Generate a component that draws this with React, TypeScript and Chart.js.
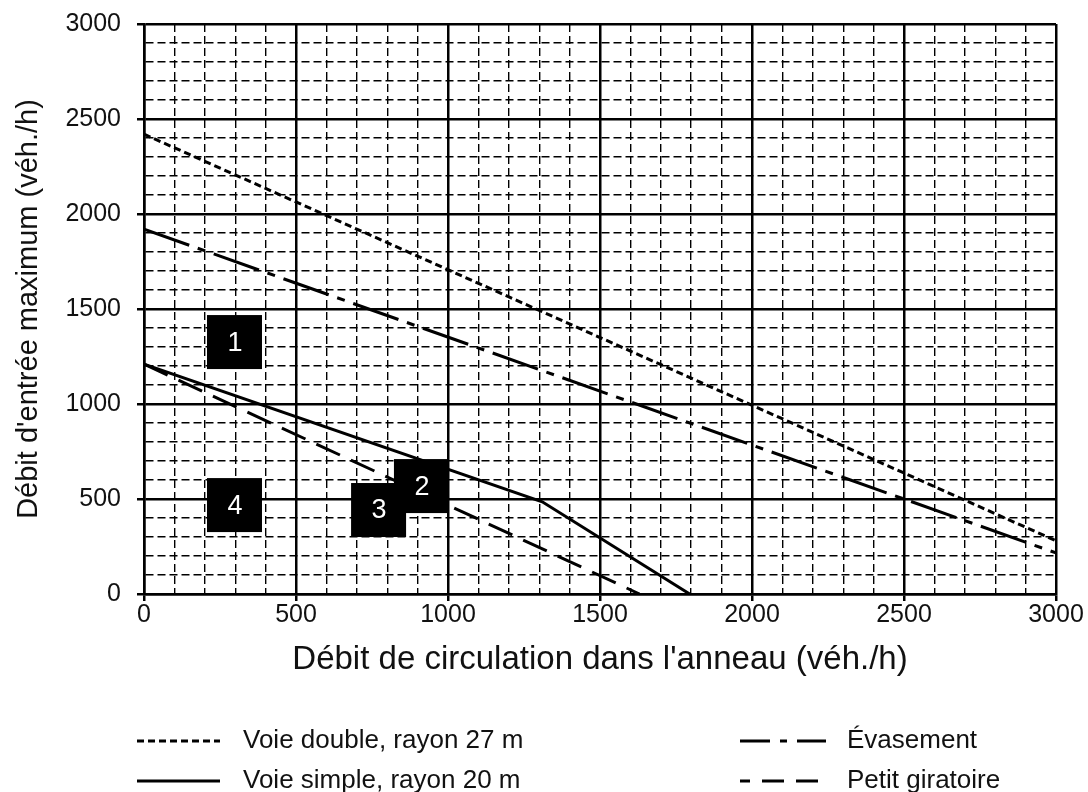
import React, { useEffect, useRef } from 'react';
import { Chart, registerables } from 'chart.js';

Chart.register(...registerables);

// ---- Data ----
const voieDoubleX = [0, 3000];
const voieDoubleY = [2420, 280];
const evasementX = [0, 3000];
const evasementY = [1920, 216];
const voieSimpleX = [0, 1310, 1795];
const voieSimpleY = [1210, 485, 0];
const petitGiratoireX = [0, 1630];
const petitGiratoireY = [1210, 0];

const seriesLabels = [
  'Voie double, rayon 27 m',
  'Voie simple, rayon 20 m',
  'Évasement',
  'Petit giratoire',
];

const zoneLabels = ['1', '2', '3', '4'];
const zoneX = [296, 911, 770, 296];
const zoneY = [1326, 568, 442, 468];

const xTitle = "Débit de circulation dans l'anneau (véh./h)";
const yTitle = "Débit d'entrée maximum (véh./h)";

const FONT = "'Liberation Sans', Arial, Helvetica, sans-serif";

export default function App() {
  const ref = useRef<HTMLCanvasElement>(null);

  useEffect(() => {
    document.body.style.margin = '0';
    const toPts = (xs: number[], ys: number[]) => xs.map((x, i) => ({ x, y: ys[i] }));
    const isMajor = (ctx: any) => {
      if (!ctx || !ctx.tick) return true;
      return Math.round(ctx.tick.value) % 500 === 0;
    };

    const zonePlugin = {
      id: 'zones',
      afterDatasetsDraw(chart: any) {
        const { ctx, scales } = chart;
        ctx.save();
        for (let i = 0; i < zoneLabels.length; i++) {
          const px = scales.x.getPixelForValue(zoneX[i]);
          const py = scales.y.getPixelForValue(zoneY[i]);
          ctx.fillStyle = '#000';
          ctx.fillRect(px - 27, py - 27, 55, 54);
          ctx.fillStyle = '#fff';
          ctx.font = `27px ${FONT}`;
          ctx.textAlign = 'center';
          ctx.textBaseline = 'middle';
          ctx.fillText(zoneLabels[i], px + 1, py + 1);
        }
        ctx.restore();
      },
    };

    const legendItems = [
      { ds: 0, x0: 137, x1: 220, tx: 243, y: 741, dash: [7, 4], offset: 0 },
      { ds: 1, x0: 137, x1: 220, tx: 243, y: 781, dash: [], offset: 0 },
      { ds: 2, x0: 740, x1: 826, tx: 847, y: 741, dash: [30, 10, 7, 10], offset: 0 },
      { ds: 3, x0: 740, x1: 826, tx: 847, y: 781, dash: [22, 12], offset: 12 },
    ];

    const legendPlugin = {
      id: 'customLegend',
      afterDraw(chart: any) {
        const { ctx } = chart;
        ctx.save();
        legendItems.forEach((it) => {
          const ds = chart.data.datasets[it.ds];
          ctx.strokeStyle = ds.borderColor;
          ctx.lineWidth = 3;
          ctx.setLineDash(it.dash);
          ctx.lineDashOffset = it.offset;
          ctx.beginPath();
          ctx.moveTo(it.x0, it.y);
          ctx.lineTo(it.x1, it.y);
          ctx.stroke();
          ctx.setLineDash([]);
          ctx.fillStyle = '#111';
          ctx.font = `26px ${FONT}`;
          ctx.textAlign = 'left';
          ctx.textBaseline = 'middle';
          ctx.fillText(ds.label, it.tx, it.y);
        });
        ctx.restore();
      },
    };

    const gridOpts = {
      color: '#000',
      lineWidth: (c: any) => (isMajor(c) ? 2.5 : 1.4),
      tickLength: 7,
      tickWidth: 2.5,
      tickColor: (c: any) => (isMajor(c) ? '#000' : 'rgba(0,0,0,0)'),
    };
    const borderOpts = {
      display: true,
      color: '#000',
      width: 2.5,
      dash: (c: any) => (c && c.type === 'tick' && !isMajor(c) ? [8, 4] : []),
    };
    const tickFont = { family: FONT, size: 25 };

    const common = { borderColor: '#000', pointRadius: 0, fill: false, tension: 0 };

    const chart = new Chart(ref.current as HTMLCanvasElement, {
      type: 'line',
      data: {
        datasets: [
          { ...common, label: seriesLabels[0], data: toPts(voieDoubleX, voieDoubleY), borderWidth: 3, borderDash: [7, 4] },
          { ...common, label: seriesLabels[1], data: toPts(voieSimpleX, voieSimpleY), borderWidth: 3 },
          { ...common, label: seriesLabels[2], data: toPts(evasementX, evasementY), borderWidth: 3, borderDash: [48, 9, 8, 9] },
          { ...common, label: seriesLabels[3], data: toPts(petitGiratoireX, petitGiratoireY), borderWidth: 3, borderDash: [26, 12] },
        ],
      },
      options: {
        animation: false,
        responsive: false,
        devicePixelRatio: 1,
        layout: { padding: { left: 0, right: 32, top: 24, bottom: 112 } },
        plugins: { legend: { display: false }, tooltip: { enabled: false } },
        scales: {
          x: {
            type: 'linear',
            min: 0,
            max: 3000,
            afterFit: (s: any) => { s.height = 86; },
            ticks: {
              stepSize: 100,
              autoSkip: false,
              maxRotation: 0,
              callback: (v: any) => (Math.round(v) % 500 === 0 ? String(v) : ''),
              font: tickFont,
              color: '#111',
              padding: -1,
            },
            grid: gridOpts,
            border: borderOpts,
            title: { display: true, text: xTitle, font: { family: FONT, size: 33 }, color: '#111', padding: { top: 0, bottom: 0 } },
          },
          y: {
            type: 'linear',
            min: 0,
            max: 3000,
            afterFit: (s: any) => { s.width = 144; s.paddingTop = 0; s.paddingBottom = 0; },
            ticks: {
              stepSize: 100,
              autoSkip: false,
              callback: (v: any) => (Math.round(v) % 500 === 0 ? String(v) : ''),
              font: tickFont,
              color: '#111',
              padding: 16,
            },
            grid: gridOpts,
            border: borderOpts,
            title: { display: true, text: yTitle, font: { family: FONT, size: 29 }, color: '#111', padding: { top: 12, bottom: 0 } },
          },
        },
      } as any,
      plugins: [zonePlugin, legendPlugin],
    });
    return () => chart.destroy();
  }, []);

  return <canvas ref={ref} width={1088} height={792} style={{ display: 'block' }} />;
}
